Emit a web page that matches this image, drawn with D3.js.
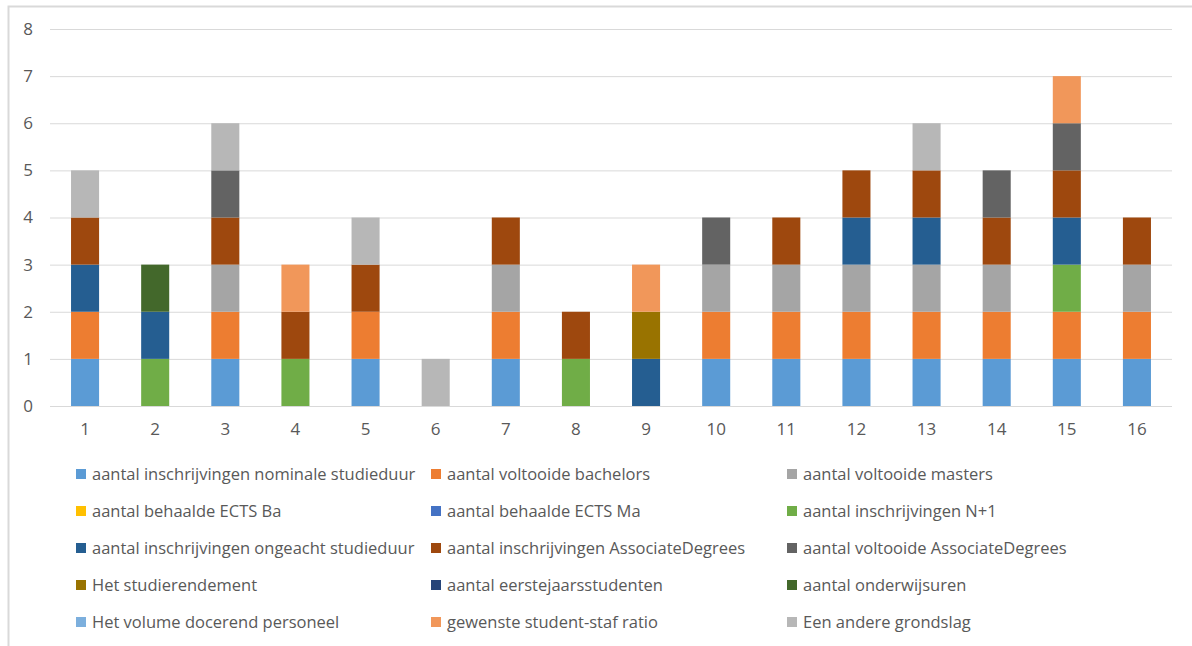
<!DOCTYPE html>
<html><head><meta charset="utf-8">
<script src="https://cdn.jsdelivr.net/npm/d3@7"></script>
<style>body{margin:0;background:#fff}svg{display:block}text{font-family:"Open Sans","Liberation Sans",Arial,sans-serif}</style>
</head><body><svg id="c" width="1192" height="646"></svg>
<script>
const categories = ["1","2","3","4","5","6","7","8","9","10","11","12","13","14","15","16"];
const seriesNames = [
 "aantal inschrijvingen nominale studieduur","aantal voltooide bachelors","aantal voltooide masters",
 "aantal behaalde ECTS Ba","aantal behaalde ECTS Ma","aantal inschrijvingen N+1",
 "aantal inschrijvingen ongeacht studieduur","aantal inschrijvingen AssociateDegrees","aantal voltooide AssociateDegrees",
 "Het studierendement","aantal eerstejaarsstudenten","aantal onderwijsuren",
 "Het volume docerend personeel","gewenste student-staf ratio","Een andere grondslag"];
const seriesColors = ["#5B9BD5","#ED7D31","#A5A5A5","#FFC000","#4472C4","#70AD47","#255E91","#9E480E","#636363","#997300","#264478","#43682B","#7CAFDD","#F1975A","#B7B7B7"];
// values per series, one per category 1..16
const nominale    = [1,0,1,0,1,0,1,0,0,1,1,1,1,1,1,1];
const bachelors   = [1,0,1,0,1,0,1,0,0,1,1,1,1,1,1,1];
const masters     = [0,0,1,0,0,0,1,0,0,1,1,1,1,1,0,1];
const ectsBa      = [0,0,0,0,0,0,0,0,0,0,0,0,0,0,0,0];
const ectsMa      = [0,0,0,0,0,0,0,0,0,0,0,0,0,0,0,0];
const inschrN1    = [0,1,0,1,0,0,0,1,0,0,0,0,0,0,1,0];
const ongeacht    = [1,1,0,0,0,0,0,0,1,0,0,1,1,0,1,0];
const inschrAD    = [1,0,1,1,1,0,1,1,0,0,1,1,1,1,1,1];
const voltooideAD = [0,0,1,0,0,0,0,0,0,1,0,0,0,1,1,0];
const rendement   = [0,0,0,0,0,0,0,0,1,0,0,0,0,0,0,0];
const eerstejaars = [0,0,0,0,0,0,0,0,0,0,0,0,0,0,0,0];
const onderwijsuren=[0,1,0,0,0,0,0,0,0,0,0,0,0,0,0,0];
const volume      = [0,0,0,0,0,0,0,0,0,0,0,0,0,0,0,0];
const stafRatio   = [0,0,0,1,0,0,0,0,1,0,0,0,0,0,1,0];
const andere      = [1,0,1,0,1,1,0,0,0,0,0,0,1,0,0,0];
const seriesValues = [nominale,bachelors,masters,ectsBa,ectsMa,inschrN1,ongeacht,inschrAD,voltooideAD,rendement,eerstejaars,onderwijsuren,volume,stafRatio,andere];
const yTicks = [0,1,2,3,4,5,6,7,8];

const svg = d3.select("#c");
// chart border (left & top)
svg.append("path").attr("d","M8.5,646 V6.5 H1192").attr("fill","none").attr("stroke","#D9D9D9").attr("stroke-width",2);

const x = d3.scaleBand().domain(categories).range([50,1172]).paddingInner(0.6).paddingOuter(0.3);
const y = d3.scaleLinear().domain([0,8]).range([406,29]);

const gy = svg.append("g").attr("transform","translate(50,0)")
  .call(d3.axisLeft(y).tickValues(yTicks).tickSize(-1122).tickPadding(17).tickFormat(d3.format("d")));
gy.select(".domain").remove();
gy.selectAll("line").attr("stroke","#D9D9D9").attr("stroke-width",1);
gy.selectAll("text").attr("fill","#595959").style("font-size","17px");

const rows = categories.map((c,i)=>{const o={cat:c}; seriesNames.forEach((s,j)=>o[s]=seriesValues[j][i]); return o;});
const stacked = d3.stack().keys(seriesNames)(rows);
const color = d3.scaleOrdinal().domain(seriesNames).range(seriesColors);

svg.append("g").selectAll("g").data(stacked).join("g").attr("fill",d=>color(d.key))
 .selectAll("rect").data(d=>d.filter(p=>p[1]>p[0])).join("rect")
 .attr("x",d=>x(d.data.cat)).attr("width",x.bandwidth())
 .attr("y",d=>y(d[1])).attr("height",d=>y(d[0])-y(d[1]));

const gx = svg.append("g").attr("transform","translate(0,406)")
 .call(d3.axisBottom(x).tickSize(0).tickPadding(17));
gx.select(".domain").remove();
gx.selectAll("text").attr("fill","#595959").style("font-size","17px");

// legend
const colX = [76,431,787];
const rowY = [474,511,548,585,622];
const lg = svg.append("g").selectAll("g").data(seriesNames).join("g")
 .attr("transform",(d,i)=>`translate(${colX[i%3]},${rowY[Math.floor(i/3)]})`);
lg.append("rect").attr("x",0).attr("y",-5).attr("width",10).attr("height",10).attr("fill",d=>color(d));
lg.append("text").attr("x",16).attr("y",0).attr("dy","0.35em").attr("fill","#595959").style("font-size","16.5px").text(d=>d);
</script></body></html>
